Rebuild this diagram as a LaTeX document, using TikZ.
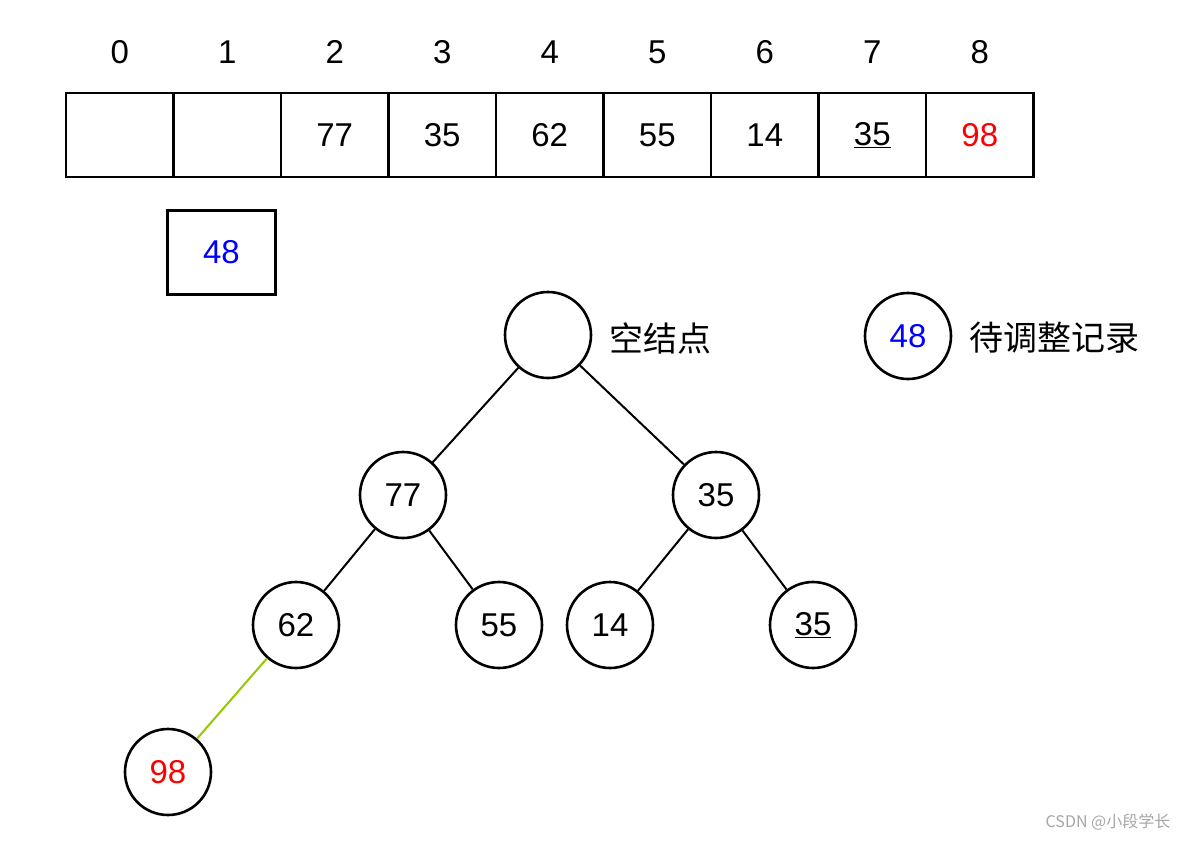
\documentclass[tikz,border=0pt]{standalone}
\usepackage{fontspec}
\setmainfont{Liberation Sans}
\newfontfamily\cjk{Noto Sans CJK SC}
\begin{document}
\begin{tikzpicture}[x=1pt,y=-1pt,
  cell/.style={draw,line width=2.8pt,minimum width=107.5pt,minimum height=84pt,inner sep=0,font=\fontsize{33}{38}\selectfont},
  nd/.style={draw,circle,line width=2.6pt,minimum size=86pt,inner sep=0,font=\fontsize{33}{38}\selectfont},
  idx/.style={font=\fontsize{33}{38}\selectfont},
  ed/.style={line width=2pt},
  lab/.style={font=\cjk\fontsize{34}{38}\selectfont,anchor=west}]
\useasboundingbox (0,0) rectangle (1192,841);
\foreach \v [count=\i from 0] in {{},{},77,35,62,55,14,{\underline{35}},{\color{red}98}}{
  \node[cell] (c\i) at ({66+53.75+107.5*\i},135) {\v};
  \node[idx] (i\i) at ({66+53.75+107.5*\i},52) {\i};
}
\node[cell,text=blue] (tmp) at (221.5,252.5) {48};
\node[nd] (r) at (548,335) {};
\node[nd] (a) at (403,495) {77};
\node[nd] (b) at (716,495) {35};
\node[nd] (c) at (296,625) {62};
\node[nd] (d) at (499,625) {55};
\node[nd] (e) at (610,625) {14};
\node[nd] (f) at (813,625) {\underline{35}};
\node[nd,text=red] (g) at (168,772) {98};
\node[nd,text=blue] (lg) at (908,336) {48};
\node[lab] (l1) at (606,338) {空结点};
\node[lab] (l2) at (966,338) {待调整记录};
\draw[ed] (r)--(a); \draw[ed] (r)--(b);
\draw[ed] (a)--(c); \draw[ed] (a)--(d);
\draw[ed] (b)--(e); \draw[ed] (b)--(f);
\draw[ed,color={rgb,255:red,150;green,200;blue,0}] (c)--(g);
\node[font=\cjk\fontsize{16}{18}\selectfont,text=gray!70] (wm) at (1108,822) {CSDN @小段学长};
\end{tikzpicture}
\end{document}
